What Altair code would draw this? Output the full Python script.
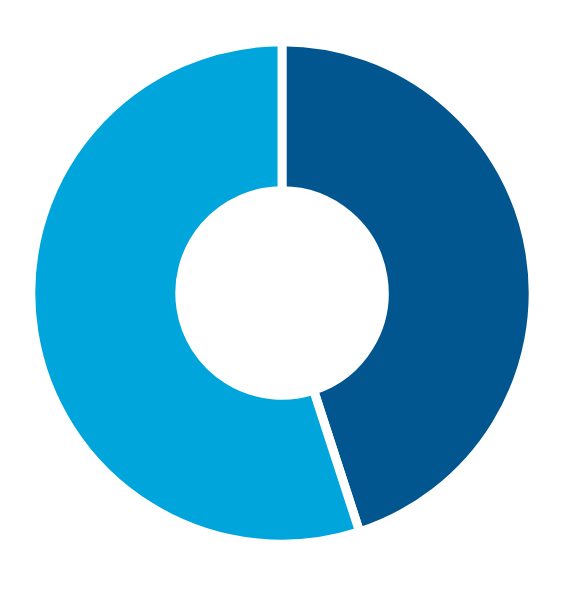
import altair as alt
import pandas as pd

segments = ["A", "B"]
values = [45, 55]
order = [1, 2]
colors = ["#02568F", "#00A5DC"]

df = pd.DataFrame({"segment": segments, "value": values, "order": order})

chart = (
    alt.Chart(df)
    .mark_arc(outerRadius=253, innerRadius=103, stroke="white", strokeWidth=9)
    .encode(
        theta=alt.Theta("value:Q", stack=True),
        order=alt.Order("order:Q"),
        color=alt.Color("segment:N", scale=alt.Scale(domain=segments, range=colors), legend=None),
    )
    .properties(width=540, height=560, padding=5)
    .configure_view(stroke=None)
)

chart.save("out.html", embed_options={"renderer": "svg", "actions": False})
